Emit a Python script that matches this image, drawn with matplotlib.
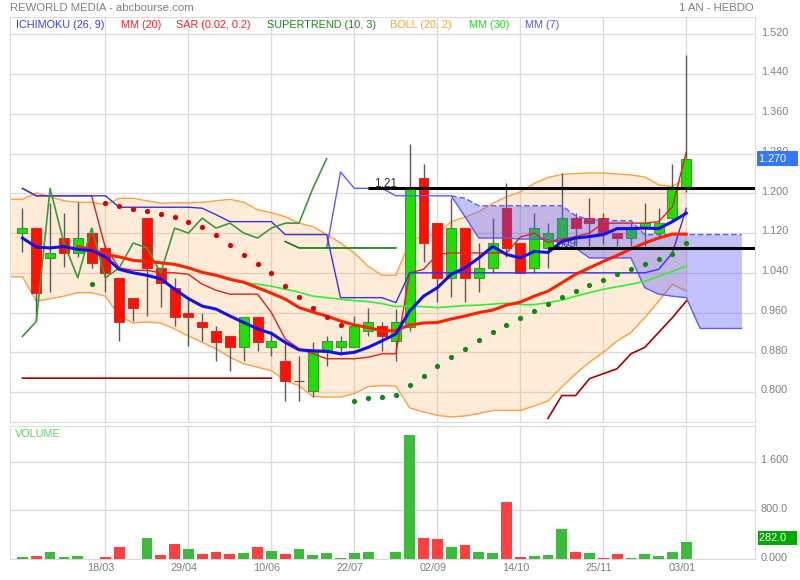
import numpy as np
import matplotlib
matplotlib.use('Agg')
import matplotlib.pyplot as plt
from matplotlib import transforms

plt.rcParams['font.family'] = ['Liberation Sans', 'DejaVu Sans']

nan = np.nan

# weekly candles (1 year)
opens = [1.120, 1.130, 1.070, 1.110, 1.080, 1.120, 1.090, 1.030, 0.990, 1.150,
         1.050, 1.010, 0.960, 0.942, 0.922, 0.912, 0.891, 0.952, 0.891, 0.862,
         0.822, 0.802, 0.881, 0.891, 0.891, 0.922, 0.932, 0.902, 0.931, 1.230,
         1.140, 1.030, 1.130, 1.030, 1.050, 1.170, 1.100, 1.050, 1.090, 1.110,
         1.150, 1.150, 1.150, 1.120, 1.110, 1.130, 1.120, 1.150, 1.210]
highs = [1.170, 1.130, 1.180, 1.160, 1.182, 1.130, 1.095, 1.030, 0.990, 1.150,
         1.050, 1.030, 0.988, 0.960, 0.933, 0.912, 0.952, 0.952, 0.922, 0.900,
         0.872, 0.901, 0.913, 0.913, 0.953, 0.970, 0.942, 0.967, 1.300, 1.260,
         1.140, 1.190, 1.130, 1.100, 1.150, 1.220, 1.100, 1.160, 1.140, 1.240,
         1.160, 1.190, 1.160, 1.120, 1.140, 1.180, 1.170, 1.260, 1.479]
lows = [1.081, 0.943, 1.001, 1.051, 1.072, 1.050, 1.001, 0.903, 0.943, 0.953,
        0.971, 0.933, 0.893, 0.903, 0.863, 0.843, 0.863, 0.883, 0.873, 0.783,
        0.783, 0.791, 0.853, 0.875, 0.891, 0.913, 0.883, 0.863, 0.923, 1.061,
        0.981, 0.992, 0.981, 1.001, 1.040, 1.071, 1.040, 1.040, 1.050, 1.093,
        1.093, 1.093, 1.098, 1.093, 1.093, 1.093, 1.110, 1.143, 1.203]
closes = [1.130, 1.000, 1.080, 1.080, 1.110, 1.060, 1.040, 0.942, 0.970, 1.050,
          1.020, 0.951, 0.952, 0.931, 0.901, 0.891, 0.952, 0.901, 0.902, 0.822,
          0.822, 0.881, 0.902, 0.902, 0.932, 0.942, 0.912, 0.942, 1.210, 1.100,
          1.030, 1.130, 1.030, 1.050, 1.100, 1.090, 1.040, 1.130, 1.120, 1.150,
          1.130, 1.140, 1.120, 1.110, 1.130, 1.140, 1.140, 1.210, 1.270]

volumes = [44, 60, 115, 38, 50, 6, 33, 202, 11, 355,
           65, 251, 169, 87, 120, 93, 98, 208, 142, 93,
           175, 71, 109, 17, 98, 126, 11, 120, 2039, 355,
           334, 202, 235, 115, 109, 940, 38, 60, 65, 492,
           115, 98, 22, 87, 17, 82, 54, 120, 282]
vol_up = [1, 0, 1, 1, 1, 0, 0, 0, 1, 1,
          0, 0, 1, 0, 0, 0, 1, 0, 1, 0,
          1, 1, 1, 1, 1, 1, 0, 1, 1, 0,
          0, 1, 0, 1, 1, 0, 0, 1, 1, 1,
          0, 1, 0, 0, 1, 1, 1, 1, 1]

x_ticks = [6, 12, 18, 24, 30, 36, 42, 48]
x_labels = ['18/03', '29/04', '10/06', '22/07', '02/09', '14/10', '25/11', '03/01']
price_ticks = [0.80, 0.88, 0.96, 1.04, 1.12, 1.20, 1.28, 1.36, 1.44, 1.52]
vol_ticks = [0, 800, 1600]
vol_labels = ['0.000', '800.0', '1 600']

# moving averages
mm7 = [1.110, 1.092, 1.090, 1.093, 1.087, 1.085, 1.072, 1.047, 1.040, 1.035,
       1.028, 1.007, 0.988, 0.973, 0.967, 0.953, 0.940, 0.927, 0.918, 0.900,
       0.885, 0.883, 0.882, 0.877, 0.880, 0.890, 0.903, 0.917, 0.963, 0.993,
       1.010, 1.037, 1.050, 1.070, 1.093, 1.077, 1.070, 1.083, 1.081, 1.103,
       1.110, 1.113, 1.117, 1.129, 1.129, 1.130, 1.129, 1.143, 1.160]
mm20 = [nan] * 4 + [1.093, 1.087, 1.077, 1.072, 1.065, 1.063, 1.060, 1.057, 1.050, 1.041,
                    1.035, 1.027, 1.021, 1.010, 0.999, 0.987, 0.970, 0.961, 0.953, 0.943,
                    0.935, 0.930, 0.923, 0.924, 0.935, 0.939, 0.940, 0.947, 0.953, 0.960,
                    0.965, 0.975, 0.981, 0.993, 1.003, 1.020, 1.037, 1.050, 1.063, 1.075,
                    1.088, 1.100, 1.110, 1.118, 1.118]
mm30 = [nan] * 4 + [1.093, 1.087, 1.077, 1.072, 1.065, 1.063, 1.060, 1.057, 1.050, 1.041,
                    1.035, 1.027, 1.020, 1.017, 1.013, 1.007, 1.001, 0.993, 0.990, 0.987,
                    0.984, 0.982, 0.978, 0.972, 0.973, 0.972, 0.970, 0.972, 0.974, 0.975,
                    0.977, 0.979, 0.976, 0.976, 0.980, 0.985, 0.993, 1.000, 1.007, 1.012,
                    1.017, 1.023, 1.033, 1.043, 1.053]

# bollinger (20, 2), starts one week before the first candle
boll_up = [1.188, 1.188, 1.201, 1.193, 1.185, 1.182, 1.182, 1.177, 1.190, 1.190,
           1.185, 1.180, 1.181, 1.181, 1.182, 1.185, 1.188, 1.182, 1.167, 1.161,
           1.153, 1.140, 1.133, 1.117, 1.100, 1.080, 1.053, 1.035, 1.035, 1.103,
           1.115, 1.117, 1.143, 1.152, 1.163, 1.180, 1.193, 1.203, 1.220, 1.232,
           1.238, 1.240, 1.241, 1.241, 1.239, 1.237, 1.233, 1.217, 1.214, 1.231]
boll_lo = [1.032, 1.032, 0.983, 0.988, 0.993, 1.000, 1.000, 0.993, 0.953, 0.939,
           0.941, 0.939, 0.927, 0.913, 0.900, 0.887, 0.870, 0.857, 0.850, 0.843,
           0.823, 0.813, 0.791, 0.790, 0.790, 0.797, 0.811, 0.813, 0.812, 0.768,
           0.760, 0.753, 0.750, 0.752, 0.757, 0.763, 0.763, 0.763, 0.772, 0.782,
           0.810, 0.837, 0.860, 0.880, 0.903, 0.920, 0.950, 0.983, 1.017, 1.003]

# ichimoku (26, 9)
tenkan = [1.210, 1.195, 1.195, 1.195, 1.195, 1.195, 1.090, 1.050, 1.045, 1.045,
          1.040, 1.040, 1.037, 1.017, 1.005, 0.997, 0.997, 0.997, 0.960, 0.907,
          0.887, 0.877, 0.867, 0.867, 0.867, 0.870, 0.877, 0.877, 1.040, 1.047,
          1.077, 1.080, 1.080, 1.080, 1.080, 1.080, 1.112, 1.120, 1.101, 1.107,
          1.113, 1.120, 1.140, 1.140, 1.140, 1.140, 1.143, 1.173, 1.283]
kijun = [1.210, 1.195, 1.195, 1.195, 1.195, 1.195, 1.195, 1.172, 1.172, 1.172,
         1.172, 1.172, 1.172, 1.170, 1.157, 1.143, 1.143, 1.143, 1.143, 1.117,
         1.117, 1.117, 1.117, 0.990, 0.990, 0.990, 0.990, 0.980] + [1.040] * 18 + [1.047, 1.080, 1.170]
senkou_a = [nan] * 22 + [1.090, 1.243, 1.210, 1.210, 1.210, 1.195, 1.195, 1.195, 1.195, 1.195,
                         1.153, 1.110, 1.110, 1.110, 1.108, 1.108, 1.107, 1.100, 1.090, 1.070,
                         1.070, 1.070, 1.070, 1.010, 0.997, 0.993, 0.990, 0.928, 0.928, 0.928,
                         0.928]
senkou_b = [nan] * 31 + [1.195, 1.190] + [1.175] * 7 + [1.155, 1.147, 1.145, 1.145, 1.145] + [1.117] * 8

# SAR (0.02, 0.2)
sar_red = [nan] * 6 + [1.181, 1.175, 1.169, 1.165, 1.159, 1.153, 1.143, 1.133, 1.117, 1.095,
                       1.075, 1.057, 1.039, 1.013, 0.991, 0.969, 0.951, 0.935] + [nan] * 25
sar_green = [nan] * 5 + [1.018] + [nan] * 18 + [0.783, 0.788, 0.791, 0.795, 0.815, 0.833, 0.853,
                                                  0.871, 0.887, 0.905, 0.920, 0.935, 0.949, 0.963,
                                                  0.977, 0.991, 1.003, 1.015, 1.025, 1.037, 1.047,
                                                  1.057, 1.067, 1.077, 1.101]

# supertrend (10, 3)
st_low = [0.828] * 19 + [nan] * 19 + [0.747, 0.793, 0.793, 0.827, 0.837, 0.847, 0.877,
                                      0.890, 0.920, 0.950, 0.983]
st_high = [nan] * 19 + [1.103] + [1.090] * 8 + [nan] * 21

levels = [1.21, 1.09]
level_from = [25, 38]

n = len(closes)
idx = np.arange(n)
idx_boll = np.arange(-1, n)
idx_cloud = np.arange(len(senkou_a))
o = np.array(opens)
c = np.array(closes)

fig = plt.figure(figsize=(8, 5.8), dpi=100)
ax = fig.add_axes([0.0125, 0.2729, 0.93125, 0.6983])
axv = fig.add_axes([0.0125, 0.0357, 0.93125, 0.2303])

grid_c = '#dcdcdc'
txt_c = '#808080'
xmax = 52.97

for a in (ax, axv):
    a.set_xlim(-0.9, xmax)
    a.set_xticks(x_ticks)
    a.grid(True, color=grid_c, lw=1)
    a.set_axisbelow(True)
    a.yaxis.tick_right()
    a.tick_params(length=0, labelsize=7.8, labelcolor=txt_c, pad=4.3)
    for s in a.spines.values():
        s.set_color(grid_c)

ax.set_ylim(0.7403, 1.5555)
ax.set_yticks(price_ticks, [f'{v:.3f}' for v in price_ticks])
ax.set_xticklabels([])

# bollinger
ax.fill_between(idx_boll, boll_up, boll_lo, color='#ffa040', alpha=0.2, lw=0, zorder=1)
ax.plot(idx_boll, boll_up, color='#ffa040', lw=1, zorder=2)
ax.plot(idx_boll, boll_lo, color='#ffa040', lw=1, zorder=2)

# support/resistance levels
for lv, st in zip(levels, level_from):
    ax.hlines(lv, st, xmax, color='black', lw=2.2, zorder=9)
    ax.text(st + 0.4, lv + 0.009, f'{lv:.2f}', fontsize=8.5, color='#333333',
            va='center', zorder=2.5)

# candles
up = c > o
down = c < o
face = np.where(up, '#22dd00', np.where(down, '#ff1100', '#555555'))
edge = np.where(up, '#3f963f', np.where(down, '#c83232', '#555555'))
ax.vlines(idx, lows, highs, color='#5a5a5a', lw=1, zorder=3)
ax.bar(idx, np.abs(c - o), bottom=np.minimum(o, c), width=0.72, color=face,
       edgecolor=edge, lw=0.8, zorder=4)

# ichimoku cloud
sa = np.array(senkou_a)
sb = np.array(senkou_b)
ax.fill_between(idx_cloud, sa, sb, where=~np.isnan(sa) & ~np.isnan(sb),
                color='#5050ff', alpha=0.35, lw=0, zorder=5)
ax.plot(idx_cloud, sa, color='#5a5aff', lw=1, zorder=6)
ax.plot(idx_cloud, sb, color='#5a5aff', lw=1, ls=(0, (4, 2)), zorder=6)
ax.plot(idx, tenkan, color='#dd2222', lw=1, zorder=6)
ax.plot(idx, kijun, color='#3333ee', lw=1, zorder=6)
# chikou: closes shifted 26 weeks back
ax.plot(idx[:n - 26], c[26:], color='#3c993c', lw=1.2, zorder=6)

# supertrend
ax.plot(idx, st_low, color='#aa0000', lw=1.2, zorder=6)
ax.plot(idx, st_high, color='#117711', lw=1.2, zorder=6)

# moving averages
ax.plot(idx, mm30, color='#33ee33', lw=1.2, zorder=7)
ax.plot(idx, mm20, color='#ff2200', lw=2.2, zorder=7)
ax.plot(idx, mm7, color='#1111ee', lw=2.2, zorder=8)

# SAR
ax.scatter(idx, sar_red, s=14, color='#dd0000', lw=0, zorder=8)
ax.scatter(idx, sar_green, s=14, color='#118811', lw=0, zorder=8)

# last price box (covers the 1.280 label as on the site)
ax.text(1.006, closes[-1], f'{closes[-1]:.3f}   ', transform=ax.get_yaxis_transform(),
        fontsize=7.8, color='white', va='center', ha='left', clip_on=False, zorder=10,
        bbox=dict(boxstyle='square,pad=0.22', fc='#3377ff', ec='none'))

# legend row
legend = [('ICHIMOKU (26, 9)', '#3c3cff', 15.7), ('MM (20)', '#ff2020', 120.7),
          ('SAR (0.02, 0.2)', '#ff2020', 176), ('SUPERTREND (10, 3)', '#1a8a1a', 266.7),
          ('BOLL (20, 2)', '#ffa040', 390), ('MM (30)', '#20dd20', 469),
          ('MM (7)', '#5555ff', 525)]
for name, col, px in legend:
    ax.text((px - 10) / 745, 0.9795, name, transform=ax.transAxes, color=col,
            fontsize=7.8, va='center', ha='left')

# volume
vcol = ['#3dbb3d' if u else '#ff4040' for u in vol_up]
axv.bar(idx, volumes, width=0.78, color=vcol, zorder=3)
axv.set_ylim(0, 2190)
axv.set_yticks(vol_ticks, vol_labels)
axv.set_xticks(x_ticks, x_labels)
axv.tick_params(axis='x', pad=2.5)
axv.text(0.0067, 0.938, 'VOLUME', transform=axv.transAxes, color='#66cc66',
         fontsize=7.8, va='center', ha='left')
vbox = axv.text(1.006, volumes[-1], f'{volumes[-1]:.1f}   ', transform=axv.get_yaxis_transform(),
                fontsize=7.8, color='white', va='center', ha='left', clip_on=False, zorder=10,
                bbox=dict(boxstyle='square,pad=0.15', fc='#00a800', ec='none'))
vbox.set_transform(vbox.get_transform() + transforms.ScaledTranslation(0, 3 / 72, fig.dpi_scale_trans))

up_off = transforms.ScaledTranslation(0, 2 / 72, fig.dpi_scale_trans)
for lbl in ax.get_yticklabels() + axv.get_yticklabels():
    lbl.set_transform(lbl.get_transform() + up_off)
left_off = transforms.ScaledTranslation(-3 / 72, 0, fig.dpi_scale_trans)
for lbl in axv.get_xticklabels():
    lbl.set_transform(lbl.get_transform() + left_off)

fig.text(10 / 800, 1 - 8.3 / 580, 'REWORLD MEDIA - abcbourse.com', color=txt_c,
         fontsize=8.2, va='center', ha='left')
fig.text(754 / 800, 1 - 8.3 / 580, '1 AN - HEBDO', color=txt_c,
         fontsize=8.2, va='center', ha='right')

fig.savefig('out.png', dpi=100)
